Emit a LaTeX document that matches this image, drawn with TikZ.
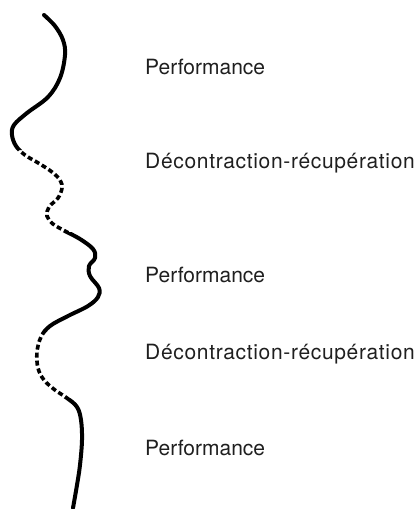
\documentclass[tikz,border=0pt]{standalone}
\usepackage{fontspec}
\setmainfont{TeX Gyre Heros}
\begin{document}
\begin{tikzpicture}[x=1pt,y=-1pt,
  wave/.style={line width=4pt,black},
  label/.style={anchor=base west,inner sep=0pt,font=\fontsize{21}{25}\selectfont,text=black!88},
  widelabel/.style={label,font=\fontsize{21}{25}\selectfont\addfontfeatures{LetterSpace=3.2}}]
\useasboundingbox (0,0) rectangle (417,509);
\def\wavepath{plot[smooth,tension=0.6] coordinates {(44,15) (55,26) (63,40) (65,55) (60,78) (48,97) (27,113) (14,125) (12,135) (16,146) (25,155) (40,164) (52,172) (60,180) (62,188) (58,198) (49,207) (47,216) (53,224) (65,231) (80,239) (93,249) (95,258) (89,266) (90,276) (99,288) (98,297) (88,306) (68,316) (50,326) (41,337) (37,352) (38,368) (44,380) (55,390) (67,398) (77,407) (81,420) (82,440) (80,465) (77,485) (73,508)}}
% solid parts
\begin{scope}
  \clip (0,0) rectangle (150,150) (0,232) rectangle (150,333) (0,398) rectangle (150,509);
  \draw[wave,line cap=round] \wavepath;
\end{scope}
% dashed parts
\begin{scope}
  \clip (0,150) rectangle (150,232) (0,333) rectangle (150,398);
  \draw[wave,line width=3.6pt,dash pattern=on 5pt off 3pt] \wavepath;
\end{scope}
\node[label] (p1) at (145,74) {Performance};
\node[widelabel] (d1) at (145,168) {Décontraction-récupération};
\node[label] (p2) at (145,282) {Performance};
\node[widelabel] (d2) at (145,359) {Décontraction-récupération};
\node[label] (p3) at (145,455) {Performance};
\end{tikzpicture}
\end{document}
